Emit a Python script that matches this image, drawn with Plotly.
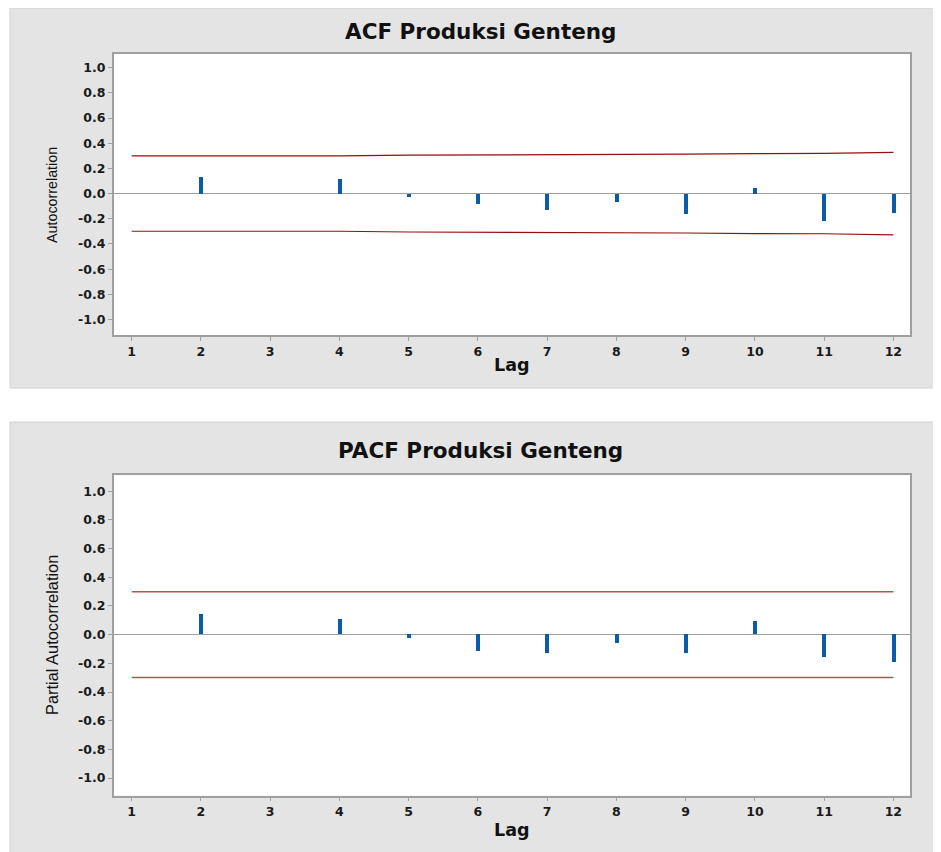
import plotly.graph_objects as go

# page body has an 8px margin; figure is placed at (8, 8)
OX, OY = 8, 8
W, H = 941 - OX, 852 - OY

lags = [1, 2, 3, 4, 5, 6, 7, 8, 9, 10, 11, 12]
acf_values = [0.0, 0.138, 0.0, 0.122, -0.027, -0.082, -0.127, -0.064, -0.162, 0.045, -0.215, -0.154]
acf_upper = [0.299, 0.299, 0.299, 0.299, 0.305, 0.306, 0.307, 0.312, 0.313, 0.318, 0.319, 0.328]
acf_lower = [-v for v in acf_upper]
pacf_values = [0.0, 0.139, 0.0, 0.107, -0.026, -0.114, -0.128, -0.058, -0.128, 0.091, -0.160, -0.193]
pacf_limit = [0.299] * 12
pacf_lower = [-v for v in pacf_limit]
y_ticks = [1.0, 0.8, 0.6, 0.4, 0.2, 0.0, -0.2, -0.4, -0.6, -0.8, -1.0]
y_tick_labels = ["1.0", "0.8", "0.6", "0.4", "0.2", "0.0", "-0.2", "-0.4", "-0.6", "-0.8", "-1.0"]

BAR = "#0B5CA8"
RED1 = "#960F0F"
RED2 = "#C0504D"
GRID = "#A0A0A0"

fig = go.Figure()


def px_x(p):
    return (p - OX) / W


def px_y(p):
    return 1 - (p - OY) / H


fig.add_trace(go.Bar(x=lags, y=acf_values, width=0.058, marker=dict(color=BAR, line=dict(width=0)),
                     xaxis="x", yaxis="y", showlegend=False))
fig.add_trace(go.Scatter(x=lags, y=acf_upper, mode="lines", line=dict(color=RED1, width=1.2),
                         xaxis="x", yaxis="y", showlegend=False))
fig.add_trace(go.Scatter(x=lags, y=acf_lower, mode="lines", line=dict(color=RED1, width=1.2),
                         xaxis="x", yaxis="y", showlegend=False))

fig.add_trace(go.Bar(x=lags, y=pacf_values, width=0.058, marker=dict(color=BAR, line=dict(width=0)),
                     xaxis="x2", yaxis="y2", showlegend=False))
fig.add_trace(go.Scatter(x=lags, y=pacf_limit, mode="lines", line=dict(color=RED2, width=1.3),
                         xaxis="x2", yaxis="y2", showlegend=False))
fig.add_trace(go.Scatter(x=lags, y=pacf_lower, mode="lines", line=dict(color=RED2, width=1.3),
                         xaxis="x2", yaxis="y2", showlegend=False))

WIDE = "DejaVu Sans, Verdana, sans-serif"
tick_font = dict(family=WIDE, size=12.5, color="#1a1a1a", weight="bold")
title_font = dict(family=WIDE, size=21.5, color="#111111", weight="bold")
ytitle_font_top = dict(family="Liberation Sans, Arial, sans-serif", size=14.3, color="#111111")
ytitle_font_bot = dict(family="Liberation Sans, Arial, sans-serif", size=16.4, color="#111111")
lag_font = dict(family=WIDE, size=17.5, color="#111111", weight="bold")

xdom = [px_x(113.7), px_x(910)]

common_x = dict(range=[0.74, 12.24], tickmode="array", tickvals=lags, ticktext=[str(l) for l in lags],
                showline=True, linecolor=GRID, linewidth=1.5, mirror=True, ticks="outside",
                ticklen=4, tickcolor=GRID, showgrid=False, zeroline=False, tickfont=tick_font,
                domain=xdom)
common_y = dict(range=[-1.123, 1.111], tickmode="array", tickvals=y_ticks, ticktext=y_tick_labels,
                showline=True, linecolor=GRID, linewidth=1.5, mirror=True, ticks="outside",
                ticklen=4, tickcolor=GRID, showgrid=False, zeroline=True, zerolinecolor=GRID,
                zerolinewidth=1.2, tickfont=tick_font)

fig.update_layout(
    width=W, height=H,
    margin=dict(l=0, r=0, t=0, b=0),
    paper_bgcolor="white", plot_bgcolor="white",
    bargap=0,
    xaxis=dict(**common_x, anchor="y"),
    yaxis=dict(**common_y, domain=[px_y(335), px_y(53.7)], anchor="x"),
    xaxis2=dict(**common_x, anchor="y2"),
    yaxis2=dict(**common_y, domain=[px_y(795.7), px_y(475.3)], anchor="x2"),
    shapes=[
        dict(type="rect", xref="paper", yref="paper", x0=px_x(10), x1=px_x(940), y0=px_y(388), y1=px_y(8),
             fillcolor="#E4E4E4", line=dict(color="#D2D2D2", width=1), layer="below"),
        dict(type="rect", xref="paper", yref="paper", x0=px_x(10), x1=px_x(940), y0=px_y(860), y1=px_y(422),
             fillcolor="#E4E4E4", line=dict(color="#D2D2D2", width=1), layer="below"),
        dict(type="rect", xref="x domain", yref="y domain", x0=0, x1=1, y0=0, y1=1,
             fillcolor="white", line=dict(width=0), layer="below"),
        dict(type="rect", xref="x2 domain", yref="y2 domain", x0=0, x1=1, y0=0, y1=1,
             fillcolor="white", line=dict(width=0), layer="below"),
    ],
    annotations=[
        dict(text="ACF Produksi Genteng", xref="paper", yref="paper", x=px_x(481), y=px_y(32),
             xanchor="center", yanchor="middle", showarrow=False, font=title_font),
        dict(text="PACF Produksi Genteng", xref="paper", yref="paper", x=px_x(481), y=px_y(451),
             xanchor="center", yanchor="middle", showarrow=False, font=title_font),
        dict(text="Autocorrelation", xref="paper", yref="paper", x=px_x(52), y=px_y(195),
             xanchor="center", yanchor="middle", showarrow=False, textangle=-90, font=ytitle_font_top),
        dict(text="Partial Autocorrelation", xref="paper", yref="paper", x=px_x(52), y=px_y(220 + 415 - 0),
             xanchor="center", yanchor="middle", showarrow=False, textangle=-90, font=ytitle_font_bot),
        dict(text="Lag", xref="paper", yref="paper", x=px_x(512), y=px_y(365),
             xanchor="center", yanchor="middle", showarrow=False, font=lag_font),
        dict(text="Lag", xref="paper", yref="paper", x=px_x(512), y=px_y(830),
             xanchor="center", yanchor="middle", showarrow=False, font=lag_font),
    ],
)

fig.write_html("out.html")
